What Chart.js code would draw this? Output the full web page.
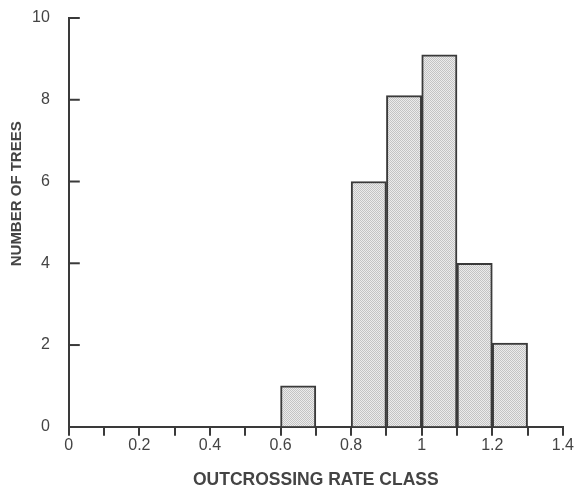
<!DOCTYPE html>
<html>
<head>
<meta charset="utf-8">
<script src="https://cdn.jsdelivr.net/npm/chart.js@4.4.1/dist/chart.umd.min.js"></script>
<style>
  html, body { margin: 0; padding: 0; background: #fff; }
  #wrap { width: 574px; height: 493px; position: relative; }
</style>
</head>
<body>
<div id="wrap"><canvas id="myChart"></canvas></div>
<script>
// histogram bins (class centres) and counts
var binCentres = [0.65, 0.85, 0.95, 1.05, 1.15, 1.25];
var treeCounts = [1, 6, 8.1, 9.1, 4, 2.05];
var xTickLabels = ["0", "", "0.2", "", "0.4", "", "0.6", "", "0.8", "", "1", "", "1.2", "", "1.4"];
var yTicks = [0, 2, 4, 6, 8, 10];

var ink = "#3a3a3a";
var textInk = "#444";
var tickFont = { family: "'Liberation Sans', Arial, sans-serif", size: 16 };

// stipple fill like the printed figure
function stipple() {
    var c = document.createElement("canvas");
    c.width = 2; c.height = 2;
    var g = c.getContext("2d");
    g.fillStyle = "#ececec";
    g.fillRect(0, 0, 2, 2);
    g.fillStyle = "#c4c4c4";
    g.fillRect(0, 0, 1, 1);
    g.fillRect(1, 1, 1, 1);
    return g.createPattern(c, "repeat");
}

// y ticks point into the plot, y title sits a bit above centre
var axisExtras = {
    id: "axisExtras",
    afterDraw: function (chart) {
        var ctx = chart.ctx, y = chart.scales.y, x0 = chart.scales.x.left;
        ctx.save();
        ctx.strokeStyle = ink;
        ctx.lineWidth = 2;
        yTicks.forEach(function (v) {
            if (v === 0) return;
            var py = y.getPixelForValue(v);
            ctx.beginPath();
            ctx.moveTo(x0, py);
            ctx.lineTo(x0 + 11, py);
            ctx.stroke();
        });
        ctx.fillStyle = textInk;
        ctx.font = "bold 15px 'Liberation Sans', Arial, sans-serif";
        ctx.translate(17, y.getPixelForValue(5.7));
        ctx.rotate(-Math.PI / 2);
        ctx.textAlign = "center";
        ctx.textBaseline = "middle";
        ctx.fillText("NUMBER OF TREES", 0, 0);
        ctx.restore();
    }
};

var ctx = document.getElementById("myChart").getContext("2d");
var myChart = new Chart(ctx, {
    type: "bar",
    data: {
        datasets: [
            {
                label: "Number of trees",
                data: binCentres.map(function (c, i) { return { x: c, y: treeCounts[i] }; }),
                backgroundColor: stipple(),
                borderColor: ink,
                borderWidth: 2,
                barPercentage: 1,
                categoryPercentage: 1
            }
        ]
    },
    plugins: [axisExtras],
    options: {
        responsive: true,
        maintainAspectRatio: false,
        animation: false,
        layout: { padding: { left: 28, right: 0, top: 18, bottom: 2 } },
        plugins: {
            legend: { display: false },
            tooltip: { enabled: false }
        },
        scales: {
            x: {
                type: "linear",
                min: 0,
                max: 1.4,
                offset: false,
                grid: { offset: false, drawOnChartArea: false, color: ink, lineWidth: 2, tickLength: 9 },
                border: { display: true, color: ink, width: 2 },
                ticks: {
                    stepSize: 0.1,
                    autoSkip: false,
                    maxRotation: 0,
                    color: textInk,
                    font: tickFont,
                    padding: 0,
                    callback: function (v) { return xTickLabels[Math.round(v * 10)]; }
                },
                title: {
                    display: true,
                    text: "OUTCROSSING RATE CLASS",
                    color: textInk,
                    font: { family: "'Liberation Sans', Arial, sans-serif", size: 17.5, weight: "bold" },
                    padding: { top: 15, bottom: 0 }
                }
            },
            y: {
                min: 0,
                max: 10,
                // outer tick marks hidden; they only hold the label gap
                grid: { drawOnChartArea: false, drawTicks: true, tickLength: 15, tickColor: "rgba(0,0,0,0)" },
                border: { display: true, color: ink, width: 2 },
                ticks: {
                    stepSize: 2,
                    color: textInk,
                    font: tickFont,
                    padding: 4
                }
            }
        }
    }
});
</script>
</body>
</html>
